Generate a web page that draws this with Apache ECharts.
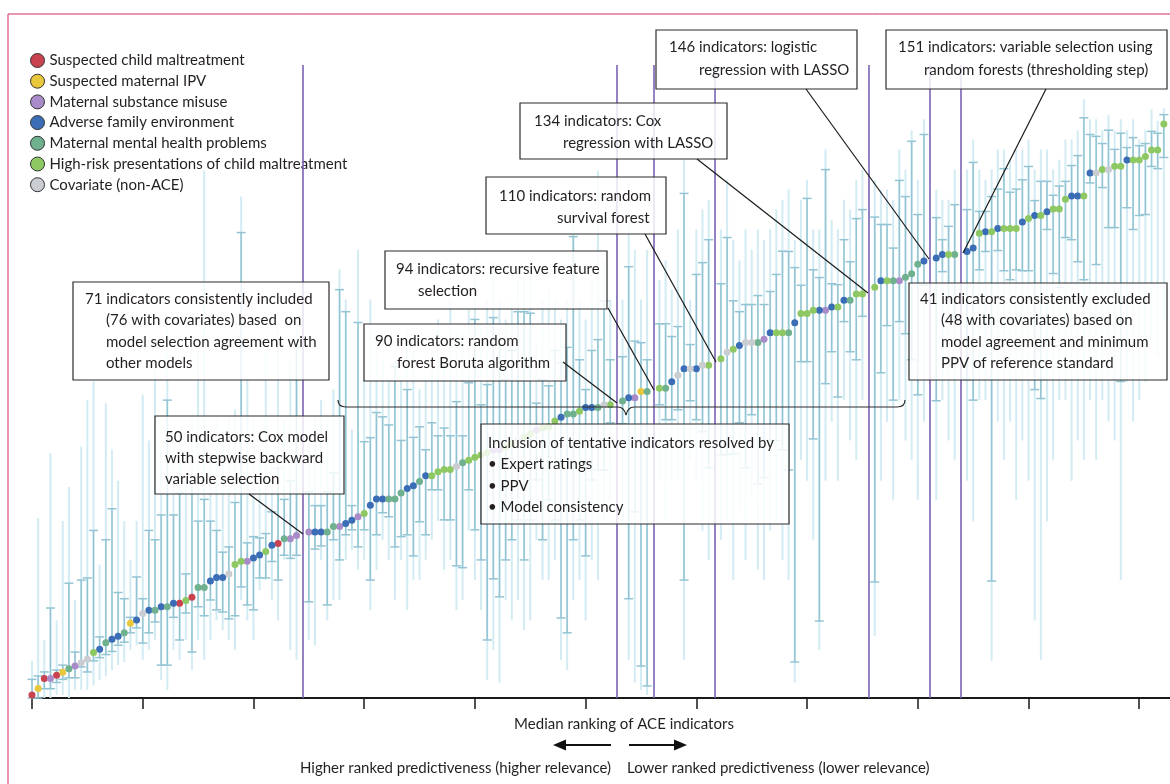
<!DOCTYPE html>
<html><head><meta charset="utf-8">
<script src="https://cdn.jsdelivr.net/npm/echarts@6/dist/echarts.min.js"></script>
<style>html,body{margin:0;padding:0;background:#fff}#c{width:1170px;height:784px}</style>
</head><body><div id="c"></div>
<script>
// slot index 0..184; null = slot occupied by a vertical cut line
const median = [1.0,3.1,6.3,6.3,7.3,8.3,9.4,10.3,11.4,12.5,
14.7,15.7,17.8,18.9,19.9,21.0,24.1,25.1,27.2,28.3,
28.3,29.4,29.4,30.5,30.5,31.4,32.5,35.6,35.6,37.7,
38.8,38.8,40.0,43.0,44.1,44.1,45.1,46.1,47.2,49.2,
49.8,51.3,51.3,52.4,null,53.5,53.5,53.5,53.5,55.3,
55.3,56.2,57.3,58.4,59.5,62.1,64.1,64.1,64.1,64.1,
66.1,67.5,68.4,69.8,71.6,71.6,72.9,73.6,73.6,74.6,
75.8,76.6,77.6,78.3,79.0,79.9,79.9,80.9,82.0,83.1,
84.0,85.2,86.3,87.0,87.4,89.3,90.5,91.5,91.5,92.4,
93.6,93.6,93.6,94.5,94.5,null,95.7,96.8,96.8,98.8,
98.8,null,99.8,99.8,101.9,104.0,106.1,106.1,106.1,107.2,
107.2,null,109.3,111.4,112.4,113.6,114.6,114.6,114.6,115.6,
117.7,117.7,117.7,117.7,120.9,123.9,123.9,125.0,125.0,125.0,
126.0,126.0,128.2,128.2,130.2,130.2,null,132.4,134.5,134.5,
134.5,134.5,135.6,136.7,139.8,140.8,null,141.8,142.9,142.9,
142.9,null,143.9,145.0,149.8,150.3,150.3,151.3,151.3,151.3,
151.3,153.4,154.5,155.5,155.5,156.7,157.6,157.6,160.7,161.8,
161.8,161.8,169.2,169.2,170.3,170.3,171.4,171.4,173.4,173.4,
173.4,174.5,176.6,176.6,185.0];

// R child maltreatment, Y maternal IPV, P substance misuse, B adverse family env,
// T maternal mental health, G high-risk presentations, C covariate
const group = ['R','Y','R','P','R','Y','T','P','C','C',
'G','B','T','B','B','T','Y','B','C','B',
'T','B','T','B','R','G','R','T','T','B',
'B','B','C','G','G','P','B','B','G','B',
'R','T','P','P',null,'P','B','B','T','T',
'P','B','B','P','G','B','B','B','T','T',
'T','B','B','T','B','G','G','G','G','C',
'T','G','G','G','G','P','P','G','G','C',
'G','G','P','G','G','G','B','T','T','G',
'B','B','T','C','G',null,'T','B','P','Y',
'T',null,'G','T','B','C','B','C','B','C',
'G',null,'G','C','G','B','C','C','T','P',
'B','G','G','T','B','G','G','G','B','P',
'B','G','B','T','G','G',null,'G','B','G',
'T','P','T','T','T','B',null,'B','B','G',
'T',null,'B','B','G','B','G','B','G','G',
'G','B','G','B','G','B','G','G','G','B',
'B','G','B','C','G','C','G','G','B','G',
'G','G','G','G','G'];

// interquartile-type bars (with caps)
const iqrLow = [0,0,3,3,5,6,6.5,6.5,10,8.4,
12,13,14,15,17,18,21,22.6,17.7,21,
24.5,10.6,10.6,26,18.7,27.4,14.8,29.4,26.5,31.6,
28.4,27.7,25.5,26.5,35.8,30,28.4,38.7,38.7,44,
38,46,45,46,null,31,48,49,30,51,
44.5,52.6,54.2,48.7,54.2,38,52.6,59.7,58.4,48.7,
52,52.6,45.8,56.8,52.6,67.1,67.1,57.4,57.4,42.6,
42,67.1,54.2,44.5,18.7,38.4,32.6,44.5,51,57.4,
44.5,57.4,70.3,51,63.9,57.4,25.8,21,51,57.4,
45.8,70.3,73.5,73.5,88.7,null,88.4,32,60,10.3,
3.9,null,94.5,89.7,89.7,92.9,38,95.8,89.7,85.8,
74.2,null,78.4,78.4,78.7,88.7,74.2,91.3,69,71,
83,83,80,73.5,11.6,108.4,108.4,83.5,24.8,101.3,
111.6,97,121.3,111.6,109,123,null,37.4,104.8,120,
96,121.3,117.4,109,97.7,133,null,95.8,137.4,128.4,
122,null,102.6,96,138,143.9,37.7,144.2,137.7,134.8,
138,137.7,137.7,99.4,96.5,151,136.8,132.3,148.4,147.7,
140.6,134.8,166,139.7,164.5,151.6,151.6,102,158,151,
155.5,155.8,171.3,170.6,174.2];
const iqrHigh = [6,7.1,8.4,29,9,10.6,37,14.8,38,38.7,
54,19.7,51,61,34,32,26,39,32,54,
51,59,96,59,66,40,70,57,64,57,
54,47,48.7,63,150,50,52,51.6,53,60,
74,64,70,113,null,66.5,62,62,66.5,72.6,
131.6,124.5,62,121,82.6,83.9,92,90.6,88,106.8,
83,99.4,84,87.4,80,88.7,84.5,87,84.5,95.5,
84.5,101.6,122,94.5,101,122.6,115.5,102.6,112,124.5,
124.5,124,95,102.6,100.6,112,108,113,148.7,109,
99.4,112,115.5,128,109,null,110,139,115,114.5,
109,null,120.6,120.6,116.5,119.7,162.6,113.9,136.5,140.3,
147.7,null,133.5,148.4,128,124.5,126.8,126.8,129.7,126.8,
131,136.5,144,143.9,138.7,133,161,138,135.5,170.3,
133.5,133.2,147.7,140.6,154.5,157.4,null,155,152.6,152.6,
145,166.8,161.6,179.4,155.8,181.6,null,154.8,147.7,152,
159,null,157.4,172.6,156.8,156.8,161.6,164,170.6,163,
164,167,171.3,160.3,166.5,166.5,162,165,166.5,171.6,
174.8,187,181.6,181,178.7,183,176.8,182,177.4,180.6,
178,178.7,182.6,182,188];
// full-range bars (pale, no caps)
const rangeLow = [0,0,0,0,1,1,0,2.6,2.6,2.6,
4,5.8,7,9,10.6,11.6,15.5,17,12.3,15.5,
18.7,5.8,2.6,15.5,12.3,18.7,9,18.7,12.3,18.7,
25,21.9,18.7,15.5,31.6,25,18.7,34.8,38,31.6,
25,44.5,15.5,12.3,null,18.7,17,44.5,25,31.6,
31.6,44.5,47.7,41.3,44.5,28.4,41.3,51,44.5,31.6,
44.5,28.4,38,38,44.5,51,57,41.3,44.5,28.4,
31.6,54,38,28.4,5.8,15.5,5,31.6,25,31.6,
21.9,25,51,38,38,44.5,12.3,9,31.6,38,
25,44.5,38,57,63.9,null,57,12.3,5,2.6,
1,null,70,57,70,70,12.3,76.8,70,54,
44.5,null,51,57,38,60,44.5,63.9,41.3,38,
54,57,44.5,38,5,76.8,70,51,15.5,70,
89,70,96,83,76.8,96,null,20,70,89,
63.9,96,83,76.8,63.9,89,null,63.9,96,83,
76.8,null,70,57,96,96,12,89,76.8,89,
63.9,83,70,25,12.3,57,76.8,96,96,70,
83,76.8,96,76.8,96,89,83,38,102,89,
96,102,115,110,120];
const rangeHigh = [12,58,18.7,79,25,57,68,31.6,81,96,
102,43,95,80,70,57,44.5,57,97.7,83,
106,80,119,83,86.5,70,90,112,170,80,
90,86.5,90,93,161.6,102.6,90,86.5,112,80,
118.7,90,109,118.7,null,83,90,96,90,99.4,
138,128.4,86.5,144.5,102.6,128.4,115.5,109,102.6,112,
102.6,118.7,112,99.4,102.6,112,122,109,128.4,118.7,
118.7,125,141,118.7,128.4,141,128.4,122,128.4,138,
134.8,141,115.5,128.4,131.6,128.4,122,128.4,160.6,128.4,
122,134.8,170,141,128.4,null,128.4,154,144.5,128.4,
144.5,null,134.8,141,131.6,151,173.5,128.4,151,157.4,
160.6,null,151,167,147.7,141,151,144.5,151,147.7,
151,157.4,160.6,163.9,147.7,160.6,167,151,151,176.8,
154,151,160.6,157.4,167,170.3,null,167,163.9,163.9,
160.6,176.8,170.3,183,167,186.5,null,163.9,160.6,160.6,
170.3,null,170.3,180,170.3,167,170.3,176.8,176.8,173.5,
176.8,176.8,180,170.3,176.8,176.8,170.3,173.5,180,180,
183,193,186.5,186.5,183,188,183,186.5,183,186.5,
180,183,189.7,186,190];

const cutSlots = [44, 95, 101, 111, 136, 146, 151];
const tickValues = [0, 18, 36, 54, 72, 90, 108, 126, 144, 162, 180];

const groupCodes = ['R','Y','P','B','T','G','C'];
const groupNames = ['Suspected child maltreatment','Suspected maternal IPV','Maternal substance misuse',
  'Adverse family environment','Maternal mental health problems',
  'High-risk presentations of child maltreatment','Covariate (non-ACE)'];
const groupColors = ['#c9424f','#e9c73c','#a88bc8','#3a6db5','#6fb08f','#8dc863','#c9cdd1'];

const FONT = 'Lato';
const chart = echarts.init(document.getElementById('c'), null, {renderer:'canvas'});

const iqrData = [], rngData = [];
median.forEach((m, i) => {
  if (m === null) return;
  iqrData.push([i, iqrLow[i], iqrHigh[i]]);
  rngData.push([i, rangeLow[i], rangeHigh[i]]);
});

function barRenderer(color, width, cap) {
  return function (params, api) {
    const x = api.value(0);
    const a = api.coord([x, api.value(1)]);
    const b = api.coord([x, api.value(2)]);
    const st = {stroke: color, lineWidth: width};
    const ch = [{type:'line', shape:{x1:a[0], y1:a[1], x2:b[0], y2:b[1]}, style: st}];
    if (cap) {
      ch.push({type:'line', shape:{x1:a[0]-cap, y1:a[1], x2:a[0]+cap, y2:a[1]}, style: st});
      ch.push({type:'line', shape:{x1:b[0]-cap, y1:b[1], x2:b[0]+cap, y2:b[1]}, style: st});
    }
    return {type:'group', children: ch};
  };
}

const series = [
  {type:'custom', name:'range', renderItem: barRenderer('#d3ebf2', 2, 0), data: rngData,
   encode:{x:0, y:[1,2]}, z:1, silent:true},
  {type:'custom', name:'iqr', renderItem: barRenderer('#93c4d3', 1.5, 4.5), data: iqrData,
   encode:{x:0, y:[1,2]}, z:2, silent:true},
  {type:'line', name:'cuts', data: [], z:3, silent:true,
   markLine:{symbol:'none', silent:true, label:{show:false},
     lineStyle:{color:'#7a62b3', width:1.6, type:'solid'},
     data: cutSlots.map(s => ({xAxis: s}))}}
];
groupCodes.forEach((code, gi) => {
  const d = [];
  median.forEach((m, i) => { if (m !== null && group[i] === code) d.push([i, m]); });
  series.push({type:'scatter', name: groupNames[gi], data: d, symbolSize: 7, z: 5,
    itemStyle:{color: groupColors[gi], opacity:1}});
});

// annotation helpers
const g = [];
const TXT = '#231f20';
function box(x1, y1, x2, y2) {
  g.push({type:'rect', shape:{x:x1, y:y1, width:x2-x1, height:y2-y1},
    style:{fill:'rgba(255,255,255,0.82)', stroke:'#2b2b2b', lineWidth:1.2}, z:100});
}
function txt(s, x, y, opts) {
  opts = opts || {};
  g.push({type:'text', x: x, y: y, z: 101, style:{text: s, font: (opts.size||15)+'px '+FONT, fill: TXT,
    textAlign: opts.align||'left', align: opts.align||'left',
    textVerticalAlign:'middle', verticalAlign:'middle'}});
}
function seg(x1, y1, x2, y2, w, c) {
  g.push({type:'line', shape:{x1, y1, x2, y2}, style:{stroke: c||'#1a1a1a', lineWidth: w||1.2}, z:102});
}

box(656, 30, 857, 89);  txt('146 indicators: logistic', 669, 47); txt('regression with LASSO', 699, 70);
box(886, 30, 1167, 89); txt('151 indicators: variable selection using', 898, 47); txt('random forests (thresholding step)', 924, 70);
box(520, 103, 727, 159); txt('134 indicators: Cox', 534, 121); txt('regression with LASSO', 563, 143);
box(486, 177, 666, 234); txt('110 indicators: random', 499, 196); txt('survival forest', 557, 218);
box(385, 251, 607, 309); txt('94 indicators: recursive feature', 396, 269); txt('selection', 418, 291);
box(364, 324, 566, 381); txt('90 indicators: random', 375, 341); txt('forest Boruta algorithm', 397, 363);
box(73, 282, 329, 380);
txt('71 indicators consistently included', 85, 299); txt('(76 with covariates) based  on', 106, 320);
txt('model selection agreement with', 106, 342); txt('other models', 106, 363);
box(155, 416, 344, 494);
txt('50 indicators: Cox model', 165, 437); txt('with stepwise backward', 165, 458); txt('variable selection', 165, 479);
box(909, 283, 1167, 380);
txt('41 indicators consistently excluded', 920, 299); txt('(48 with covariates) based on', 941, 320);
txt('model agreement and minimum', 941, 342); txt('PPV of reference standard', 941, 363);
box(481, 424, 789, 524);
txt('Inclusion of tentative indicators resolved by', 488, 443); txt('\u2022 Expert ratings', 488, 464);
txt('\u2022 PPV', 488, 486); txt('\u2022 Model consistency', 488, 507);

// connectors
seg(806, 89, 929, 259);
seg(1046, 89, 963, 253);
seg(697, 159, 868, 293);
seg(645, 234, 716, 362);
seg(608, 308, 654, 390);
seg(563, 362, 617, 403);
seg(249, 494, 303, 534);

// curly bracket
const BR = '#2b2b2b';
g.push({type:'bezierCurve', shape:{x1:338, y1:400, x2:346, y2:407, cpx1:338, cpy1:407}, style:{stroke:BR, lineWidth:1.2, fill:null}, z:102});
seg(346, 407, 618, 407, 1.2, BR);
g.push({type:'bezierCurve', shape:{x1:618, y1:407, x2:626, y2:415, cpx1:624, cpy1:407}, style:{stroke:BR, lineWidth:1.2, fill:null}, z:102});
g.push({type:'bezierCurve', shape:{x1:626, y1:415, x2:634, y2:407, cpx1:628, cpy1:407}, style:{stroke:BR, lineWidth:1.2, fill:null}, z:102});
seg(634, 407, 897, 407, 1.2, BR);
g.push({type:'bezierCurve', shape:{x1:897, y1:407, x2:905, y2:400, cpx1:905, cpy1:407}, style:{stroke:BR, lineWidth:1.2, fill:null}, z:102});

// axis title and arrows
txt('Median ranking of ACE indicators', 624, 724, {align:'center'});
seg(563, 745, 611, 745, 2, '#111');
g.push({type:'polygon', shape:{points:[[553,745],[566,739.5],[566,750.5]]}, style:{fill:'#111'}, z:102});
seg(629, 745, 677, 745, 2, '#111');
g.push({type:'polygon', shape:{points:[[687,745],[674,739.5],[674,750.5]]}, style:{fill:'#111'}, z:102});
txt('Higher ranked predictiveness (higher relevance)', 611, 768, {align:'right'});
txt('Lower ranked predictiveness (lower relevance)', 627, 768);

// page frame
seg(8, 14, 1170, 14, 1, '#cf2e62');
seg(8, 14, 8, 784, 1, '#cf2e62');

chart.setOption({
  animation: false,
  backgroundColor: '#ffffff',
  grid: {left: 32, right: 0, top: 65, bottom: 86, containLabel: false},
  xAxis: {type:'value', min: 0, max: 185,
    axisLine:{show:true, lineStyle:{color:'#1a1a1a', width:2}},
    axisTick:{show:true, length:11, lineStyle:{color:'#1a1a1a', width:1.5}, customValues: tickValues},
    axisLabel:{show:false}, splitLine:{show:false}},
  yAxis: {type:'value', min: 0, max: 204, show:false},
  legend: {orient:'vertical', left: 30, top: 53, padding: 0, itemWidth: 14, itemHeight: 14, itemGap: 5.7,
    icon:'circle', data: groupNames,
    itemStyle:{borderColor:'#333', borderWidth:1},
    textStyle:{fontFamily: FONT, fontSize: 15, color: TXT, lineHeight: 14, padding:[0,0,0,0]}},
  graphic: {elements: g},
  series: series
});
</script>
</body></html>
